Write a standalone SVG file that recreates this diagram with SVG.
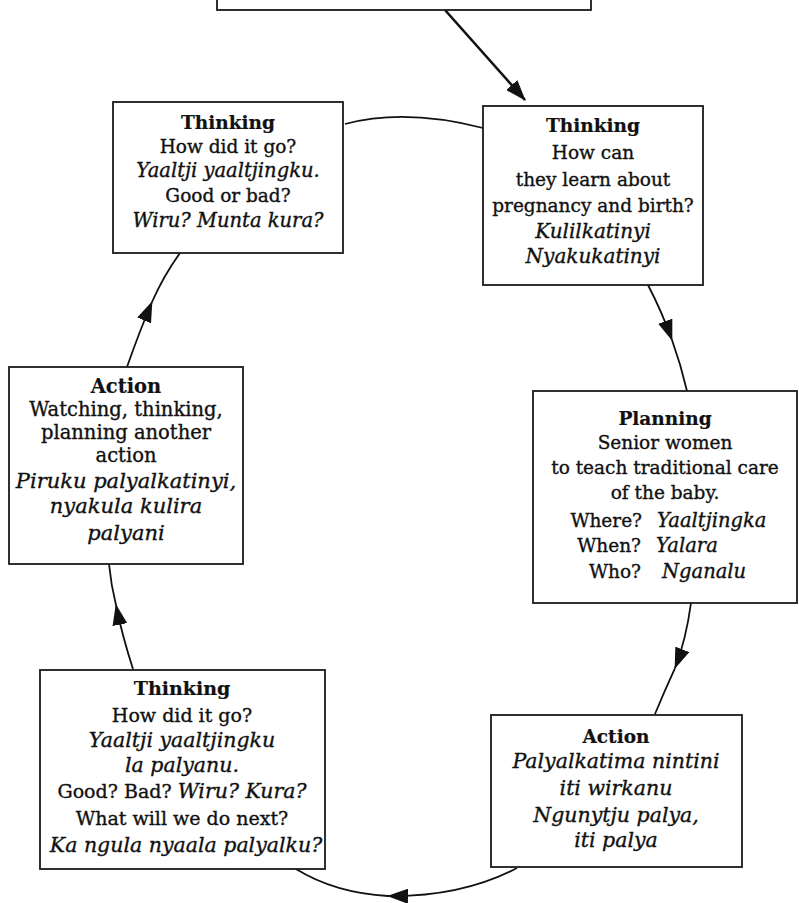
<svg xmlns="http://www.w3.org/2000/svg" width="799" height="903" viewBox="0 0 799 903">
<style>
.box{fill:#fff;stroke:#1a1a1a;stroke-width:1.8}
.t{font-family:"DejaVu Serif","Liberation Serif",serif;font-size:18.5px;fill:#111;stroke:#111;stroke-width:0.35;text-anchor:middle}
.b{font-weight:bold;stroke-width:0.2}
.i{font-style:italic;font-size:19.5px}
.r{text-anchor:end}
.l{text-anchor:start}
.c{fill:none;stroke:#111;stroke-width:1.8}
#thinking-2 .i{font-size:20px}
#action-1 .t{font-size:19.5px}
#action-1 .i{font-size:21px}
#thinking-3 .t{font-size:19px}
#thinking-3 .i{font-size:20.5px}
#action-2 .i{font-size:20.5px}
</style>
<defs>
<marker id="ah" markerUnits="userSpaceOnUse" markerWidth="22" markerHeight="15" refX="20" refY="7.5" orient="auto" viewBox="0 0 22 15">
<path d="M0,0 L21,7.5 L0,15 z" fill="#111"/>
</marker>
</defs>
<rect width="799" height="903" fill="#fff"/>
<g id="connectors">
<path class="c" style="stroke-width:2.6" d="M445,10 L525,100" marker-end="url(#ah)"/>
<path class="c" d="M345,124 Q405,108 483,128"/>
<path class="c" d="M648,285 Q662,312 672,340" marker-end="url(#ah)"/>
<path class="c" d="M672,340 Q681,365 687,391"/>
<path class="c" d="M691,603 Q686,640 675,668" marker-end="url(#ah)"/>
<path class="c" d="M675,668 Q664,692 655,714"/>
<path class="c" d="M517,868 Q462,897 388,896" marker-end="url(#ah)"/>
<path class="c" d="M388,896 Q335,893 296,869"/>
<path class="c" d="M133,669 Q122,635 116,605" marker-end="url(#ah)"/>
<path class="c" d="M116,605 Q111,585 109,564"/>
<path class="c" d="M127,367 Q140,330 152,302" marker-end="url(#ah)"/>
<path class="c" d="M152,302 Q164,275 180,253"/>
</g>
<g id="top-box">
<rect class="box" x="217" y="-10" width="374" height="20"/>
</g>
<g id="thinking-1">
<rect class="box" x="113" y="102" width="230" height="151"/>
<text class="t b" x="228" y="129">Thinking</text>
<text class="t" x="228" y="153">How did it go?</text>
<text class="t i" x="228" y="177">Yaaltji yaaltjingku.</text>
<text class="t" x="228" y="202">Good or bad?</text>
<text class="t i" x="228" y="227">Wiru? Munta kura?</text>
</g>
<g id="thinking-2">
<rect class="box" x="483" y="106" width="220" height="179"/>
<text class="t b" x="593" y="132">Thinking</text>
<text class="t" x="593" y="159">How can</text>
<text class="t" x="593" y="186">they learn about</text>
<text class="t" x="593" y="212">pregnancy and birth?</text>
<text class="t i" x="593" y="238">Kulilkatinyi</text>
<text class="t i" x="593" y="263">Nyakukatinyi</text>
</g>
<g id="planning">
<rect class="box" x="533" y="391" width="264" height="212"/>
<text class="t b" x="665" y="425">Planning</text>
<text class="t" x="665" y="449">Senior women</text>
<text class="t" x="665" y="474">to teach traditional care</text>
<text class="t" x="665" y="499">of the baby.</text>
<text class="t r" x="642" y="527">Where?</text>
<text class="t i l" x="657" y="527">Yaaltjingka</text>
<text class="t r" x="641" y="552">When?</text>
<text class="t i l" x="656" y="552">Yalara</text>
<text class="t r" x="641" y="578">Who?</text>
<text class="t i l" x="662" y="578">Nganalu</text>
</g>
<g id="action-2">
<rect class="box" x="491" y="715" width="251" height="152"/>
<text class="t b" x="616" y="743">Action</text>
<text class="t i" x="616" y="768">Palyalkatima nintini</text>
<text class="t i" x="616" y="795">iti wirkanu</text>
<text class="t i" x="616" y="822">Ngunytju palya,</text>
<text class="t i" x="616" y="847">iti palya</text>
</g>
<g id="thinking-3">
<rect class="box" x="40" y="670" width="285" height="199"/>
<text class="t b" x="182" y="695">Thinking</text>
<text class="t" x="182" y="722">How did it go?</text>
<text class="t i" x="182" y="747">Yaaltji yaaltjingku</text>
<text class="t i" x="182" y="772">la palyanu.</text>
<text class="t" x="182" y="798">Good? Bad? <tspan class="i">Wiru? Kura?</tspan></text>
<text class="t" x="182" y="825">What will we do next?</text>
<text class="t i" x="186" y="852">Ka ngula nyaala palyalku?</text>
</g>
<g id="action-1">
<rect class="box" x="9" y="367" width="234" height="197"/>
<text class="t b" x="126" y="393">Action</text>
<text class="t" x="126" y="416">Watching, thinking,</text>
<text class="t" x="126" y="439">planning another</text>
<text class="t" x="126" y="462">action</text>
<text class="t i" x="126" y="488">Piruku palyalkatinyi,</text>
<text class="t i" x="126" y="513">nyakula kulira</text>
<text class="t i" x="126" y="540">palyani</text>
</g>
</svg>
